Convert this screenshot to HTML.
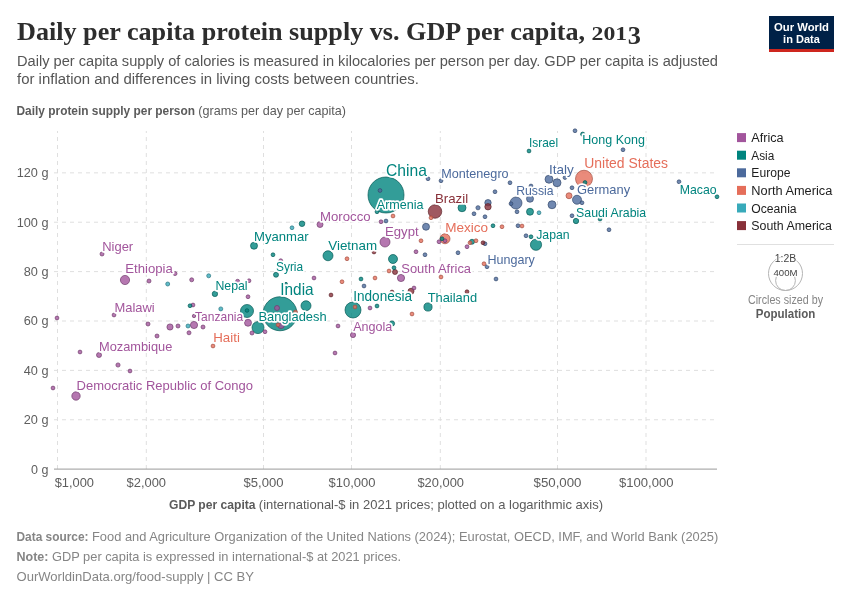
<!DOCTYPE html>
<html lang="en"><head><meta charset="utf-8"><title>Daily per capita protein supply vs. GDP per capita, 2013</title>
<style>
html,body{margin:0;padding:0;background:#fff;}
body{width:850px;height:600px;overflow:hidden;font-family:"Liberation Sans",sans-serif;}
svg{display:block;font-family:"Liberation Sans",sans-serif;will-change:transform;transform:translateZ(0);}
.serif{font-family:"Liberation Serif",serif;}
.grid{stroke:#dfdfdf;stroke-width:1;stroke-dasharray:4 4;fill:none;}
.lbl{paint-order:stroke;stroke:#fff;stroke-width:3.4px;stroke-linejoin:round;}
</style></head><body>
<svg width="850" height="600" viewBox="0 0 850 600">
<rect x="0" y="0" width="850" height="600" fill="#ffffff"/>
<text class="serif" x="17" y="40" font-size="25.5" font-weight="700" fill="#2d2d2d" textLength="568" lengthAdjust="spacingAndGlyphs">Daily per capita protein supply vs. GDP per capita,</text>
<text class="serif" x="591.6" y="40" font-size="19.8" font-weight="700" fill="#2d2d2d" textLength="35.6" lengthAdjust="spacingAndGlyphs">201</text>
<text class="serif" x="627.7" y="43.7" font-size="25" font-weight="700" fill="#2d2d2d" textLength="13.2" lengthAdjust="spacingAndGlyphs">3</text>
<text x="17" y="66.4" font-size="15.2" fill="#555555" textLength="701" lengthAdjust="spacingAndGlyphs">Daily per capita supply of calories is measured in kilocalories per person per day. GDP per capita is adjusted</text>
<text x="17" y="84.4" font-size="15.2" fill="#555555" textLength="402" lengthAdjust="spacingAndGlyphs">for inflation and differences in living costs between countries.</text>
<g>
<rect x="769" y="16" width="65" height="36" fill="#002147"/>
<rect x="769" y="49" width="65" height="3" fill="#ce261e"/>
<text x="801.5" y="30.6" font-size="11.3" font-weight="700" fill="#ffffff" text-anchor="middle" textLength="55" lengthAdjust="spacingAndGlyphs">Our World</text>
<text x="801.5" y="42.9" font-size="11.3" font-weight="700" fill="#ffffff" text-anchor="middle" textLength="36.8" lengthAdjust="spacingAndGlyphs">in Data</text>
</g>
<text x="16.5" y="115" font-size="12.4" fill="#5b5b5b"><tspan font-weight="700" textLength="178.5" lengthAdjust="spacingAndGlyphs">Daily protein supply per person</tspan></text>
<text x="198.3" y="115" font-size="12.4" fill="#5b5b5b" textLength="147.7" lengthAdjust="spacingAndGlyphs">(grams per day per capita)</text>
<g class="grid">
<line x1="57.5" y1="469" x2="57.5" y2="131"/>
<line x1="146.3" y1="469" x2="146.3" y2="131"/>
<line x1="263.5" y1="469" x2="263.5" y2="131"/>
<line x1="351.5" y1="469" x2="351.5" y2="131"/>
<line x1="440.3" y1="469" x2="440.3" y2="131"/>
<line x1="557.5" y1="469" x2="557.5" y2="131"/>
<line x1="646" y1="469" x2="646" y2="131"/>
<line x1="54" y1="419.77" x2="717" y2="419.77"/>
<line x1="54" y1="370.38" x2="717" y2="370.38"/>
<line x1="54" y1="321.0" x2="717" y2="321.0"/>
<line x1="54" y1="271.61" x2="717" y2="271.61"/>
<line x1="54" y1="222.23" x2="717" y2="222.23"/>
<line x1="54" y1="172.85" x2="717" y2="172.85"/>
</g>
<line x1="54" y1="469.1" x2="717" y2="469.1" stroke="#999999" stroke-width="1"/>
<text x="48.5" y="473.55" font-size="12.5" fill="#5e5e5e" text-anchor="end" textLength="17.4" lengthAdjust="spacingAndGlyphs">0 g</text>
<text x="48.5" y="424.17" font-size="12.5" fill="#5e5e5e" text-anchor="end" textLength="24.8" lengthAdjust="spacingAndGlyphs">20 g</text>
<text x="48.5" y="374.78" font-size="12.5" fill="#5e5e5e" text-anchor="end" textLength="24.8" lengthAdjust="spacingAndGlyphs">40 g</text>
<text x="48.5" y="325.40" font-size="12.5" fill="#5e5e5e" text-anchor="end" textLength="24.8" lengthAdjust="spacingAndGlyphs">60 g</text>
<text x="48.5" y="276.01" font-size="12.5" fill="#5e5e5e" text-anchor="end" textLength="24.8" lengthAdjust="spacingAndGlyphs">80 g</text>
<text x="48.5" y="226.63" font-size="12.5" fill="#5e5e5e" text-anchor="end" textLength="31.8" lengthAdjust="spacingAndGlyphs">100 g</text>
<text x="48.5" y="177.25" font-size="12.5" fill="#5e5e5e" text-anchor="end" textLength="31.8" lengthAdjust="spacingAndGlyphs">120 g</text>
<text x="74.3" y="487.1" font-size="12.5" fill="#5e5e5e" text-anchor="middle" textLength="39.3" lengthAdjust="spacingAndGlyphs">$1,000</text>
<text x="146.3" y="487.1" font-size="12.5" fill="#5e5e5e" text-anchor="middle" textLength="39.5" lengthAdjust="spacingAndGlyphs">$2,000</text>
<text x="263.5" y="487.1" font-size="12.5" fill="#5e5e5e" text-anchor="middle" textLength="40" lengthAdjust="spacingAndGlyphs">$5,000</text>
<text x="352" y="487.1" font-size="12.5" fill="#5e5e5e" text-anchor="middle" textLength="47" lengthAdjust="spacingAndGlyphs">$10,000</text>
<text x="440.7" y="487.1" font-size="12.5" fill="#5e5e5e" text-anchor="middle" textLength="46.5" lengthAdjust="spacingAndGlyphs">$20,000</text>
<text x="557.5" y="487.1" font-size="12.5" fill="#5e5e5e" text-anchor="middle" textLength="48" lengthAdjust="spacingAndGlyphs">$50,000</text>
<text x="646.2" y="487.1" font-size="12.5" fill="#5e5e5e" text-anchor="middle" textLength="54.5" lengthAdjust="spacingAndGlyphs">$100,000</text>
<text x="169" y="508.5" font-size="12.4" fill="#5b5b5b" font-weight="700" textLength="86.5" lengthAdjust="spacingAndGlyphs">GDP per capita</text>
<text x="258.8" y="508.5" font-size="12.4" fill="#5b5b5b" textLength="344.2" lengthAdjust="spacingAndGlyphs">(international-$ in 2021 prices; plotted on a logarithmic axis)</text>
<g stroke-width="0.75" fill-opacity="0.8" stroke-opacity="0.9">
<circle cx="386" cy="195" r="18" fill="#00847e" stroke="#005753"/>
<circle cx="280" cy="313.75" r="17" fill="#00847e" stroke="#005753"/>
<circle cx="584" cy="178.75" r="8.5" fill="#e56e5a" stroke="#a04c3e"/>
<circle cx="353" cy="310" r="8" fill="#00847e" stroke="#005753"/>
<circle cx="435" cy="211.5" r="6.75" fill="#883039" stroke="#5b2026"/>
<circle cx="247" cy="311" r="6.5" fill="#00847e" stroke="#005753"/>
<circle cx="258" cy="327.6" r="6.0" fill="#00847e" stroke="#005753"/>
<circle cx="516" cy="203" r="6" fill="#4c6a9c" stroke="#33476a"/>
<circle cx="536" cy="244.75" r="5.6" fill="#00847e" stroke="#005753"/>
<circle cx="385" cy="242" r="5" fill="#a2559c" stroke="#6d3a69"/>
<circle cx="306" cy="305.75" r="5" fill="#00847e" stroke="#005753"/>
<circle cx="328" cy="255.75" r="5" fill="#00847e" stroke="#005753"/>
<circle cx="445" cy="238.75" r="5" fill="#e56e5a" stroke="#a04c3e"/>
<circle cx="125.0" cy="280" r="4.6" fill="#a2559c" stroke="#6d3a69"/>
<circle cx="393" cy="259" r="4.5" fill="#00847e" stroke="#005753"/>
<circle cx="577" cy="199.75" r="4.5" fill="#4c6a9c" stroke="#33476a"/>
<circle cx="76" cy="396" r="4.2" fill="#a2559c" stroke="#6d3a69"/>
<circle cx="428" cy="307" r="4.1" fill="#00847e" stroke="#005753"/>
<circle cx="462" cy="207.75" r="4" fill="#00847e" stroke="#005753"/>
<circle cx="557" cy="182.75" r="4" fill="#4c6a9c" stroke="#33476a"/>
<circle cx="549" cy="179.25" r="4" fill="#4c6a9c" stroke="#33476a"/>
<circle cx="552" cy="204.75" r="4" fill="#4c6a9c" stroke="#33476a"/>
<circle cx="194" cy="325" r="3.6" fill="#a2559c" stroke="#6d3a69"/>
<circle cx="401" cy="278" r="3.6" fill="#a2559c" stroke="#6d3a69"/>
<circle cx="248" cy="322.75" r="3.5" fill="#a2559c" stroke="#6d3a69"/>
<circle cx="254" cy="245.75" r="3.5" fill="#00847e" stroke="#005753"/>
<circle cx="530" cy="211.75" r="3.5" fill="#00847e" stroke="#005753"/>
<circle cx="426" cy="226.75" r="3.5" fill="#4c6a9c" stroke="#33476a"/>
<circle cx="530" cy="198.75" r="3.5" fill="#4c6a9c" stroke="#33476a"/>
<circle cx="281" cy="325.3" r="3.3" fill="#a2559c" stroke="#6d3a69"/>
<circle cx="488" cy="202.75" r="3.2" fill="#4c6a9c" stroke="#33476a"/>
<circle cx="488" cy="206.75" r="3.2" fill="#883039" stroke="#5b2026"/>
<circle cx="170" cy="327" r="3.1" fill="#a2559c" stroke="#6d3a69"/>
<circle cx="320" cy="224.5" r="3" fill="#a2559c" stroke="#6d3a69"/>
<circle cx="569" cy="195.75" r="3" fill="#e56e5a" stroke="#a04c3e"/>
<circle cx="411" cy="291.25" r="3" fill="#883039" stroke="#5b2026"/>
<circle cx="302" cy="223.75" r="2.8" fill="#00847e" stroke="#005753"/>
<circle cx="214.9" cy="293.9" r="2.7" fill="#00847e" stroke="#005753"/>
<circle cx="576" cy="221" r="2.7" fill="#00847e" stroke="#005753"/>
<circle cx="353" cy="335" r="2.6" fill="#a2559c" stroke="#6d3a69"/>
<circle cx="392" cy="323.5" r="2.6" fill="#00847e" stroke="#005753"/>
<circle cx="99" cy="355" r="2.5" fill="#a2559c" stroke="#6d3a69"/>
<circle cx="277" cy="308" r="2.5" fill="#a2559c" stroke="#6d3a69"/>
<circle cx="276" cy="274.75" r="2.5" fill="#00847e" stroke="#005753"/>
<circle cx="472" cy="241.75" r="2.5" fill="#00847e" stroke="#005753"/>
<circle cx="395" cy="272" r="2.5" fill="#883039" stroke="#5b2026"/>
<circle cx="118" cy="365" r="2.1" fill="#a2559c" stroke="#6d3a69"/>
<circle cx="582.7" cy="134.2" r="2.1" fill="#00847e" stroke="#005753"/>
<circle cx="478" cy="207.75" r="2.1" fill="#4c6a9c" stroke="#33476a"/>
<circle cx="102" cy="254" r="2.0" fill="#a2559c" stroke="#6d3a69"/>
<circle cx="149" cy="281" r="2.0" fill="#a2559c" stroke="#6d3a69"/>
<circle cx="175" cy="273.6" r="2.0" fill="#a2559c" stroke="#6d3a69"/>
<circle cx="191.7" cy="279.8" r="2.0" fill="#a2559c" stroke="#6d3a69"/>
<circle cx="237.6" cy="281.3" r="2.0" fill="#a2559c" stroke="#6d3a69"/>
<circle cx="148" cy="324" r="2.0" fill="#a2559c" stroke="#6d3a69"/>
<circle cx="178" cy="326" r="2.0" fill="#a2559c" stroke="#6d3a69"/>
<circle cx="203" cy="327" r="2.0" fill="#a2559c" stroke="#6d3a69"/>
<circle cx="189" cy="332.8" r="2.0" fill="#a2559c" stroke="#6d3a69"/>
<circle cx="157" cy="336" r="2.0" fill="#a2559c" stroke="#6d3a69"/>
<circle cx="252" cy="333" r="2.0" fill="#a2559c" stroke="#6d3a69"/>
<circle cx="167.7" cy="284" r="2.0" fill="#38aaba" stroke="#25727d"/>
<circle cx="208.7" cy="275.8" r="2.0" fill="#38aaba" stroke="#25727d"/>
<circle cx="220.8" cy="308.9" r="2.0" fill="#38aaba" stroke="#25727d"/>
<circle cx="188" cy="326" r="2.0" fill="#38aaba" stroke="#25727d"/>
<circle cx="57" cy="318" r="1.9" fill="#a2559c" stroke="#6d3a69"/>
<circle cx="53" cy="388" r="1.9" fill="#a2559c" stroke="#6d3a69"/>
<circle cx="80" cy="352" r="1.9" fill="#a2559c" stroke="#6d3a69"/>
<circle cx="130" cy="371" r="1.9" fill="#a2559c" stroke="#6d3a69"/>
<circle cx="114" cy="315" r="1.9" fill="#a2559c" stroke="#6d3a69"/>
<circle cx="249" cy="280.75" r="1.9" fill="#a2559c" stroke="#6d3a69"/>
<circle cx="248" cy="296.75" r="1.9" fill="#a2559c" stroke="#6d3a69"/>
<circle cx="193" cy="305" r="1.9" fill="#a2559c" stroke="#6d3a69"/>
<circle cx="265" cy="331.75" r="1.9" fill="#a2559c" stroke="#6d3a69"/>
<circle cx="280.75" cy="260.7" r="1.9" fill="#a2559c" stroke="#6d3a69"/>
<circle cx="314" cy="278" r="1.9" fill="#a2559c" stroke="#6d3a69"/>
<circle cx="381" cy="221.75" r="1.9" fill="#a2559c" stroke="#6d3a69"/>
<circle cx="414" cy="288" r="1.9" fill="#a2559c" stroke="#6d3a69"/>
<circle cx="416" cy="251.75" r="1.9" fill="#a2559c" stroke="#6d3a69"/>
<circle cx="370" cy="308" r="1.9" fill="#a2559c" stroke="#6d3a69"/>
<circle cx="338" cy="326" r="1.9" fill="#a2559c" stroke="#6d3a69"/>
<circle cx="335" cy="353" r="1.9" fill="#a2559c" stroke="#6d3a69"/>
<circle cx="439" cy="241.75" r="1.9" fill="#a2559c" stroke="#6d3a69"/>
<circle cx="445" cy="240.75" r="1.9" fill="#a2559c" stroke="#6d3a69"/>
<circle cx="467" cy="246.75" r="1.9" fill="#a2559c" stroke="#6d3a69"/>
<circle cx="394" cy="267.75" r="1.9" fill="#00847e" stroke="#005753"/>
<circle cx="273" cy="254.75" r="1.9" fill="#00847e" stroke="#005753"/>
<circle cx="377" cy="211.75" r="1.9" fill="#00847e" stroke="#005753"/>
<circle cx="190" cy="305.75" r="1.9" fill="#00847e" stroke="#005753"/>
<circle cx="361" cy="279" r="1.9" fill="#00847e" stroke="#005753"/>
<circle cx="377" cy="306" r="1.9" fill="#00847e" stroke="#005753"/>
<circle cx="531" cy="236.75" r="1.9" fill="#00847e" stroke="#005753"/>
<circle cx="493" cy="225.75" r="1.9" fill="#00847e" stroke="#005753"/>
<circle cx="442" cy="238.75" r="1.9" fill="#00847e" stroke="#005753"/>
<circle cx="529" cy="151" r="1.9" fill="#00847e" stroke="#005753"/>
<circle cx="585" cy="182.5" r="1.9" fill="#00847e" stroke="#005753"/>
<circle cx="600" cy="219" r="1.9" fill="#00847e" stroke="#005753"/>
<circle cx="717" cy="196.75" r="1.9" fill="#00847e" stroke="#005753"/>
<circle cx="380" cy="190.5" r="1.9" fill="#4c6a9c" stroke="#33476a"/>
<circle cx="428" cy="178.75" r="1.9" fill="#4c6a9c" stroke="#33476a"/>
<circle cx="441" cy="180.75" r="1.9" fill="#4c6a9c" stroke="#33476a"/>
<circle cx="386" cy="221" r="1.9" fill="#4c6a9c" stroke="#33476a"/>
<circle cx="425" cy="254.75" r="1.9" fill="#4c6a9c" stroke="#33476a"/>
<circle cx="364" cy="286" r="1.9" fill="#4c6a9c" stroke="#33476a"/>
<circle cx="575" cy="130.75" r="1.9" fill="#4c6a9c" stroke="#33476a"/>
<circle cx="623" cy="149.75" r="1.9" fill="#4c6a9c" stroke="#33476a"/>
<circle cx="565" cy="177.6" r="1.9" fill="#4c6a9c" stroke="#33476a"/>
<circle cx="531" cy="186" r="1.9" fill="#4c6a9c" stroke="#33476a"/>
<circle cx="510" cy="182.75" r="1.9" fill="#4c6a9c" stroke="#33476a"/>
<circle cx="495" cy="191.75" r="1.9" fill="#4c6a9c" stroke="#33476a"/>
<circle cx="572" cy="187.75" r="1.9" fill="#4c6a9c" stroke="#33476a"/>
<circle cx="582" cy="202.75" r="1.9" fill="#4c6a9c" stroke="#33476a"/>
<circle cx="511" cy="203.7" r="1.9" fill="#4c6a9c" stroke="#33476a"/>
<circle cx="474" cy="213.75" r="1.9" fill="#4c6a9c" stroke="#33476a"/>
<circle cx="485" cy="216.75" r="1.9" fill="#4c6a9c" stroke="#33476a"/>
<circle cx="517" cy="211.75" r="1.9" fill="#4c6a9c" stroke="#33476a"/>
<circle cx="572" cy="215.75" r="1.9" fill="#4c6a9c" stroke="#33476a"/>
<circle cx="609" cy="229.75" r="1.9" fill="#4c6a9c" stroke="#33476a"/>
<circle cx="518" cy="225.75" r="1.9" fill="#4c6a9c" stroke="#33476a"/>
<circle cx="526" cy="235.75" r="1.9" fill="#4c6a9c" stroke="#33476a"/>
<circle cx="485" cy="243.75" r="1.9" fill="#4c6a9c" stroke="#33476a"/>
<circle cx="458" cy="252.75" r="1.9" fill="#4c6a9c" stroke="#33476a"/>
<circle cx="487" cy="266.75" r="1.9" fill="#4c6a9c" stroke="#33476a"/>
<circle cx="496" cy="279" r="1.9" fill="#4c6a9c" stroke="#33476a"/>
<circle cx="679" cy="181.75" r="1.9" fill="#4c6a9c" stroke="#33476a"/>
<circle cx="213" cy="346" r="1.9" fill="#e56e5a" stroke="#a04c3e"/>
<circle cx="295.5" cy="312" r="1.9" fill="#e56e5a" stroke="#a04c3e"/>
<circle cx="278" cy="324.8" r="1.9" fill="#e56e5a" stroke="#a04c3e"/>
<circle cx="355" cy="307" r="1.9" fill="#e56e5a" stroke="#a04c3e"/>
<circle cx="342" cy="281.75" r="1.9" fill="#e56e5a" stroke="#a04c3e"/>
<circle cx="375" cy="278" r="1.9" fill="#e56e5a" stroke="#a04c3e"/>
<circle cx="389" cy="271" r="1.9" fill="#e56e5a" stroke="#a04c3e"/>
<circle cx="441" cy="277" r="1.9" fill="#e56e5a" stroke="#a04c3e"/>
<circle cx="412" cy="314" r="1.9" fill="#e56e5a" stroke="#a04c3e"/>
<circle cx="393" cy="216" r="1.9" fill="#e56e5a" stroke="#a04c3e"/>
<circle cx="431" cy="217.75" r="1.9" fill="#e56e5a" stroke="#a04c3e"/>
<circle cx="421" cy="240.75" r="1.9" fill="#e56e5a" stroke="#a04c3e"/>
<circle cx="347" cy="258.75" r="1.9" fill="#e56e5a" stroke="#a04c3e"/>
<circle cx="502" cy="226.75" r="1.9" fill="#e56e5a" stroke="#a04c3e"/>
<circle cx="522" cy="226" r="1.9" fill="#e56e5a" stroke="#a04c3e"/>
<circle cx="470" cy="242.75" r="1.9" fill="#e56e5a" stroke="#a04c3e"/>
<circle cx="476" cy="240.75" r="1.9" fill="#e56e5a" stroke="#a04c3e"/>
<circle cx="484" cy="263.75" r="1.9" fill="#e56e5a" stroke="#a04c3e"/>
<circle cx="292" cy="227.75" r="1.9" fill="#38aaba" stroke="#25727d"/>
<circle cx="539" cy="212.75" r="1.9" fill="#38aaba" stroke="#25727d"/>
<circle cx="331" cy="295" r="1.9" fill="#883039" stroke="#5b2026"/>
<circle cx="392" cy="292" r="1.9" fill="#883039" stroke="#5b2026"/>
<circle cx="374" cy="252.0" r="1.9" fill="#883039" stroke="#5b2026"/>
<circle cx="483" cy="242.75" r="1.9" fill="#883039" stroke="#5b2026"/>
<circle cx="467" cy="291.75" r="1.9" fill="#883039" stroke="#5b2026"/>
<circle cx="247" cy="310.5" r="1.8" fill="#00847e" stroke="#005753"/>
<circle cx="194" cy="316" r="1.7" fill="#a2559c" stroke="#6d3a69"/>
<circle cx="286" cy="283.75" r="1.4" fill="#00847e" stroke="#005753"/>
</g>
<g>
<text class="lbl" x="386.0" y="175.5" font-size="16.17" fill="#00847e" textLength="40.85" lengthAdjust="spacingAndGlyphs">China</text>
<text class="lbl" x="376.75" y="208.75" font-size="13.17" fill="#00847e" textLength="46.85" lengthAdjust="spacingAndGlyphs">Armenia</text>
<text class="lbl" x="320.0" y="220.5" font-size="13.17" fill="#a2559c" textLength="50.6" lengthAdjust="spacingAndGlyphs">Morocco</text>
<text class="lbl" x="254.0" y="241.0" font-size="13.28" fill="#00847e" textLength="54.6" lengthAdjust="spacingAndGlyphs">Myanmar</text>
<text class="lbl" x="385.0" y="235.75" font-size="13.39" fill="#a2559c" textLength="33.6" lengthAdjust="spacingAndGlyphs">Egypt</text>
<text class="lbl" x="328.25" y="249.75" font-size="13.39" fill="#00847e" textLength="48.85" lengthAdjust="spacingAndGlyphs">Vietnam</text>
<text class="lbl" x="276.0" y="271.25" font-size="13.17" fill="#00847e" textLength="27.1" lengthAdjust="spacingAndGlyphs">Syria</text>
<text class="lbl" x="280.25" y="294.75" font-size="15.86" fill="#00847e" textLength="33.35" lengthAdjust="spacingAndGlyphs">India</text>
<text class="lbl" x="401.25" y="272.75" font-size="13.28" fill="#a2559c" textLength="69.8" lengthAdjust="spacingAndGlyphs">South Africa</text>
<text class="lbl" x="435.0" y="203.25" font-size="13.6" fill="#883039" textLength="33.1" lengthAdjust="spacingAndGlyphs">Brazil</text>
<text class="lbl" x="353.25" y="300.75" font-size="13.82" fill="#00847e" textLength="58.85" lengthAdjust="spacingAndGlyphs">Indonesia</text>
<text class="lbl" x="427.7" y="301.5" font-size="13.34" fill="#00847e" textLength="49.4" lengthAdjust="spacingAndGlyphs">Thailand</text>
<text class="lbl" x="258.5" y="320.75" font-size="13.5" fill="#00847e" textLength="68.1" lengthAdjust="spacingAndGlyphs">Bangladesh</text>
<text class="lbl" x="353.25" y="331.0" font-size="13.17" fill="#a2559c" textLength="39.1" lengthAdjust="spacingAndGlyphs">Angola</text>
<text class="lbl" x="215.4" y="289.65" font-size="13.17" fill="#00847e" textLength="32.2" lengthAdjust="spacingAndGlyphs">Nepal</text>
<text class="lbl" x="195.1" y="320.55" font-size="13.28" fill="#a2559c" textLength="48.1" lengthAdjust="spacingAndGlyphs">Tanzania</text>
<text class="lbl" x="114.4" y="311.65" font-size="13.17" fill="#a2559c" textLength="40.3" lengthAdjust="spacingAndGlyphs">Malawi</text>
<text class="lbl" x="125.2" y="273.35" font-size="13.39" fill="#a2559c" textLength="47.6" lengthAdjust="spacingAndGlyphs">Ethiopia</text>
<text class="lbl" x="102.2" y="250.65" font-size="13.17" fill="#a2559c" textLength="31.0" lengthAdjust="spacingAndGlyphs">Niger</text>
<text class="lbl" x="213.25" y="342.25" font-size="13.17" fill="#e56e5a" textLength="26.6" lengthAdjust="spacingAndGlyphs">Haiti</text>
<text class="lbl" x="99.0" y="351.0" font-size="13.17" fill="#a2559c" textLength="73.35" lengthAdjust="spacingAndGlyphs">Mozambique</text>
<text class="lbl" x="76.5" y="390.25" font-size="13.34" fill="#a2559c" textLength="176.6" lengthAdjust="spacingAndGlyphs">Democratic Republic of Congo</text>
<text class="lbl" x="529.0" y="147.25" font-size="13.17" fill="#00847e" textLength="29.1" lengthAdjust="spacingAndGlyphs">Israel</text>
<text class="lbl" x="582.25" y="143.55" font-size="13.17" fill="#00847e" textLength="62.6" lengthAdjust="spacingAndGlyphs">Hong Kong</text>
<text class="lbl" x="584.3" y="168.45" font-size="13.92" fill="#e56e5a" textLength="83.7" lengthAdjust="spacingAndGlyphs">United States</text>
<text class="lbl" x="441.25" y="177.75" font-size="13.17" fill="#4c6a9c" textLength="67.35" lengthAdjust="spacingAndGlyphs">Montenegro</text>
<text class="lbl" x="549.0" y="174.0" font-size="13.28" fill="#4c6a9c" textLength="24.85" lengthAdjust="spacingAndGlyphs">Italy</text>
<text class="lbl" x="577.0" y="194.25" font-size="13.39" fill="#4c6a9c" textLength="53.1" lengthAdjust="spacingAndGlyphs">Germany</text>
<text class="lbl" x="516.25" y="195.25" font-size="13.5" fill="#4c6a9c" textLength="37.35" lengthAdjust="spacingAndGlyphs">Russia</text>
<text class="lbl" x="576.1" y="216.75" font-size="13.17" fill="#00847e" textLength="70.1" lengthAdjust="spacingAndGlyphs">Saudi Arabia</text>
<text class="lbl" x="445.25" y="232.25" font-size="13.5" fill="#e56e5a" textLength="42.85" lengthAdjust="spacingAndGlyphs">Mexico</text>
<text class="lbl" x="536.25" y="238.5" font-size="13.5" fill="#00847e" textLength="33.35" lengthAdjust="spacingAndGlyphs">Japan</text>
<text class="lbl" x="487.5" y="264.0" font-size="13.17" fill="#4c6a9c" textLength="47.35" lengthAdjust="spacingAndGlyphs">Hungary</text>
<text class="lbl" x="679.7" y="193.5" font-size="13.17" fill="#00847e" textLength="36.9" lengthAdjust="spacingAndGlyphs">Macao</text>
</g>
<rect x="737" y="133.10" width="9" height="9" fill="#a2559c"/>
<text x="751.3" y="142.10" font-size="12.5" fill="#1d1d1d" textLength="32.3" lengthAdjust="spacingAndGlyphs">Africa</text>
<rect x="737" y="150.70" width="9" height="9" fill="#00847e"/>
<text x="751.3" y="159.70" font-size="12.5" fill="#1d1d1d" textLength="23" lengthAdjust="spacingAndGlyphs">Asia</text>
<rect x="737" y="168.30" width="9" height="9" fill="#4c6a9c"/>
<text x="751.3" y="177.30" font-size="12.5" fill="#1d1d1d" textLength="39.1" lengthAdjust="spacingAndGlyphs">Europe</text>
<rect x="737" y="185.90" width="9" height="9" fill="#e56e5a"/>
<text x="751.3" y="194.90" font-size="12.5" fill="#1d1d1d" textLength="81" lengthAdjust="spacingAndGlyphs">North America</text>
<rect x="737" y="203.50" width="9" height="9" fill="#38aaba"/>
<text x="751.3" y="212.50" font-size="12.5" fill="#1d1d1d" textLength="45.3" lengthAdjust="spacingAndGlyphs">Oceania</text>
<rect x="737" y="221.10" width="9" height="9" fill="#883039"/>
<text x="751.3" y="230.10" font-size="12.5" fill="#1d1d1d" textLength="80.6" lengthAdjust="spacingAndGlyphs">South America</text>
<line x1="737" y1="244.5" x2="834" y2="244.5" stroke="#e0e0e0" stroke-width="1"/>
<circle cx="785.5" cy="273.5" r="17" fill="none" stroke="#b5b5b5" stroke-width="1"/>
<circle cx="785.5" cy="280.6" r="9.9" fill="none" stroke="#b5b5b5" stroke-width="1"/>
<text class="lbl" x="785.5" y="261.8" font-size="10" fill="#444444" text-anchor="middle" textLength="21.5" lengthAdjust="spacingAndGlyphs" style="stroke-width:2px">1:2B</text>
<text class="lbl" x="785.5" y="276" font-size="9.5" fill="#444444" text-anchor="middle" textLength="24" lengthAdjust="spacingAndGlyphs" style="stroke-width:2px">400M</text>
<text x="785.5" y="303.6" font-size="12" fill="#858585" text-anchor="middle" textLength="75" lengthAdjust="spacingAndGlyphs">Circles sized by</text>
<text x="785.5" y="317.5" font-size="12" font-weight="700" fill="#5b5b5b" text-anchor="middle" textLength="59.5" lengthAdjust="spacingAndGlyphs">Population</text>
<text x="16.5" y="540.6" font-size="12.4" font-weight="700" fill="#858585" textLength="72" lengthAdjust="spacingAndGlyphs">Data source:</text>
<text x="92" y="540.6" font-size="12.4" fill="#858585" textLength="626.3" lengthAdjust="spacingAndGlyphs">Food and Agriculture Organization of the United Nations (2024); Eurostat, OECD, IMF, and World Bank (2025)</text>
<text x="16.5" y="560.6" font-size="12.4" font-weight="700" fill="#858585" textLength="32" lengthAdjust="spacingAndGlyphs">Note:</text>
<text x="52" y="560.6" font-size="12.4" fill="#858585" textLength="349" lengthAdjust="spacingAndGlyphs">GDP per capita is expressed in international-$ at 2021 prices.</text>
<text x="16.5" y="580.6" font-size="12.4" fill="#858585" textLength="237.5" lengthAdjust="spacingAndGlyphs">OurWorldinData.org/food-supply | CC BY</text>
</svg>
</body></html>
